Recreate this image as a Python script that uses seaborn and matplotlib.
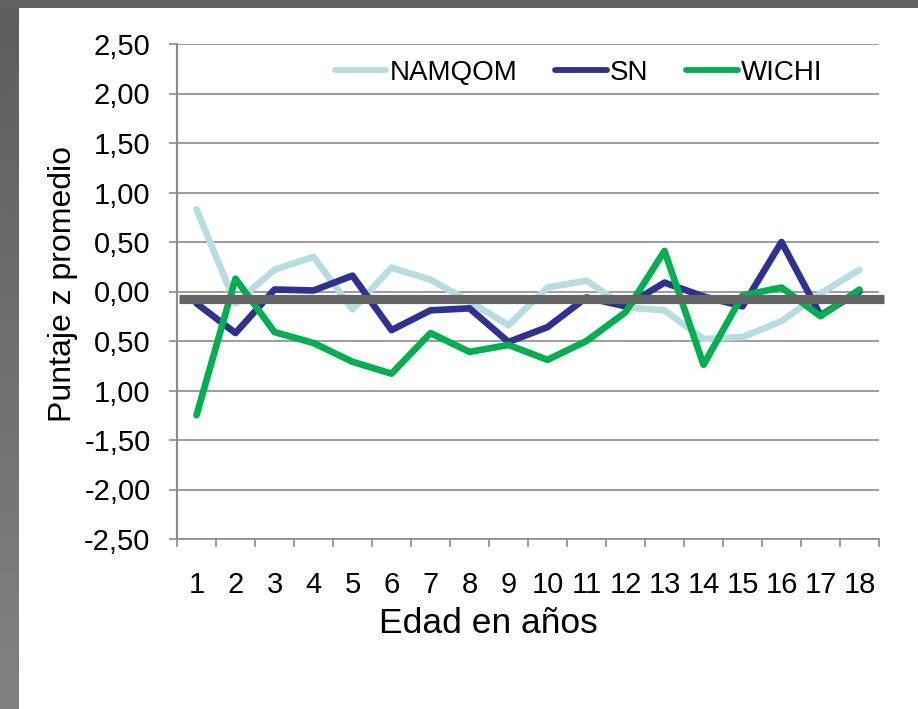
import numpy as np
import pandas as pd
import matplotlib
matplotlib.use("Agg")
import matplotlib.pyplot as plt
import seaborn as sns

# datos (puntaje z promedio por edad)
edades = list(range(1, 19))
namqom = [0.83, -0.12, 0.22, 0.35, -0.18, 0.24, 0.12, -0.10, -0.34, 0.04,
          0.11, -0.16, -0.19, -0.48, -0.46, -0.30, -0.02, 0.22]
sn = [-0.12, -0.42, 0.02, 0.01, 0.16, -0.39, -0.19, -0.17, -0.51, -0.36,
      -0.06, -0.15, 0.09, -0.05, -0.15, 0.50, -0.24, 0.00]
wichi = [-1.25, 0.13, -0.41, -0.52, -0.71, -0.83, -0.42, -0.61, -0.54, -0.69,
         -0.50, -0.21, 0.41, -0.74, -0.04, 0.04, -0.25, 0.02]
grupos = ["NAMQOM", "SN", "WICHI"]
colores = {"NAMQOM": "#b7dde1", "SN": "#2e3192", "WICHI": "#00b050"}
linea_ref = -0.075

y_ticks = [-2.5, -2.0, -1.5, -1.0, -0.5, 0.0, 0.5, 1.0, 1.5, 2.0, 2.5]
y_etiquetas = ["-2,50", "-2,00", "-1,50", "1,00", "0,50", "0,00",
               "0,50", "1,00", "1,50", "2,00", "2,50"]

df = pd.DataFrame({
    "edad": edades * 3,
    "z": namqom + sn + wichi,
    "grupo": [g for g in grupos for _ in edades],
})

sns.set_style("white")
plt.rcParams["font.family"] = ["Liberation Sans", "DejaVu Sans"]
plt.rcParams["text.color"] = "black"
plt.rcParams["axes.labelcolor"] = "black"

fig = plt.figure(figsize=(9.18, 7.09), dpi=100)
fig.patch.set_facecolor("white")

# marco gris de la captura (arriba y a la izquierda)
marco_izq = fig.add_axes([0, 0, 19 / 918, 1])
grad = np.linspace(0, 1, 256).reshape(-1, 1)
marco_izq.imshow(grad, aspect="auto", cmap="gray", vmin=-2.6, vmax=4.5, origin="upper")
marco_izq.set_axis_off()
marco_sup = fig.add_axes([0, 1 - 8 / 709, 1, 8 / 709])
marco_sup.set_facecolor("#636363")
marco_sup.set_xticks([])
marco_sup.set_yticks([])
for s in marco_sup.spines.values():
    s.set_visible(False)

ax = fig.add_axes([177 / 918, 170 / 709, 702 / 918, 495 / 709])

sns.lineplot(data=df, x="edad", y="z", hue="grupo", hue_order=grupos,
             palette=colores, linewidth=4.8, ax=ax,
             solid_capstyle="round", solid_joinstyle="round")

ax.axhline(linea_ref, xmin=0.003, xmax=1.007, color="#646464", lw=6.6,
           zorder=5, clip_on=False, solid_capstyle="butt")

ax.set_xlim(0.5, 18.5)
ax.set_ylim(-2.5, 2.5)
ax.set_yticks(y_ticks)
ax.set_yticklabels(y_etiquetas)
ax.set_xticks(edades)
ax.set_xticklabels([str(e) for e in edades])
ax.set_xticks(np.arange(0.5, 19, 1.0), minor=True)

ax.grid(axis="y", color="#8c8c8c", lw=1.2)
ax.set_axisbelow(True)
for lado in ["top", "right"]:
    ax.spines[lado].set_visible(False)
ax.spines["left"].set_color("#8c8c8c")
ax.spines["left"].set_linewidth(1.5)
ax.spines["bottom"].set_color("#8c8c8c")
ax.spines["bottom"].set_linewidth(1.2)

ax.tick_params(axis="y", which="major", length=6, width=1.2, color="#8c8c8c",
               labelsize=21, pad=13, left=True, labelcolor="black")
ax.tick_params(axis="x", which="major", length=0, labelsize=21, pad=23,
               labelcolor="black")
ax.tick_params(axis="x", which="minor", length=6, width=1.2, color="#8c8c8c",
               bottom=True)

ax.set_xlabel("Edad en años", fontsize=25.5)
ax.set_ylabel("Puntaje z promedio", fontsize=23)
ax.xaxis.set_label_coords(0.443, -0.138)
ax.yaxis.set_label_coords(-0.141, 0.515)

leg = ax.legend(loc="center", bbox_to_anchor=(0.572, 0.941), ncol=3,
                frameon=False, fontsize=20, handlelength=1.87,
                handletextpad=0.1, columnspacing=1.37, borderpad=0)
for h in leg.get_lines():
    h.set_linewidth(4.2)

fig.savefig("out.png", dpi=100, facecolor="white")
